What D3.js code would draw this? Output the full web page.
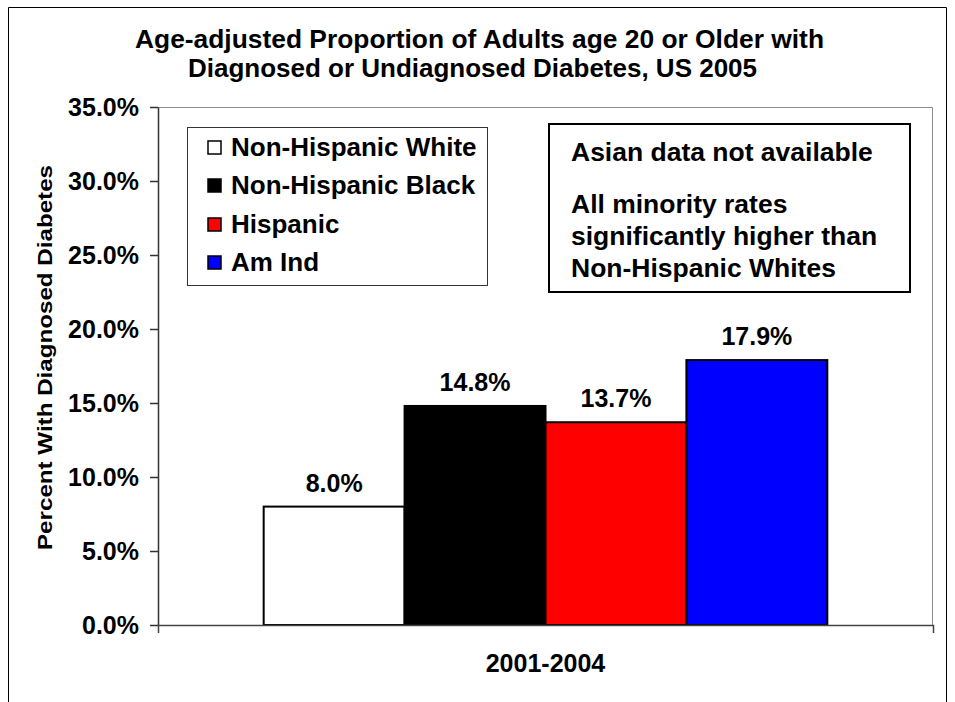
<!DOCTYPE html>
<html>
<head>
<meta charset="utf-8">
<script src="https://cdn.jsdelivr.net/npm/d3@7/dist/d3.min.js"></script>
<style>
  body { margin: 0; background: #fff; }
  svg text { font-family: "Liberation Sans", Arial, Helvetica, sans-serif; font-weight: bold; fill: #000; }
</style>
</head>
<body>
<svg id="chart" width="955" height="702"></svg>
<script>
// ---- data ----
const categories = ["2001-2004"];
const seriesNames = ["Non-Hispanic White", "Non-Hispanic Black", "Hispanic", "Am Ind"];
const seriesValues = [0.080, 0.148, 0.137, 0.179];
const seriesColors = ["#ffffff", "#000000", "#ff0000", "#0000ff"];
const yTicks = [0, 0.05, 0.10, 0.15, 0.20, 0.25, 0.30, 0.35];
const titleLines = [
  "Age-adjusted Proportion of Adults age 20 or Older with",
  "Diagnosed or Undiagnosed Diabetes, US 2005"
];
const yAxisTitle = "Percent With Diagnosed Diabetes";
const noteLines = [
  "Asian data not available",
  "All minority rates",
  "significantly higher than",
  "Non-Hispanic Whites"
];

// ---- layout ----
const W = 955, H = 702;
const plot = { left: 158, right: 933, top: 107, bottom: 625 };

const svg = d3.select("#chart");

// outer chart frame
svg.append("path")
  .attr("d", `M8.5,${H} V7.5 H946.5 V${H}`)
  .attr("fill", "none").attr("stroke", "#000").attr("stroke-width", 1);

// ---- scales ----
const y = d3.scaleLinear().domain([0, 0.35]).range([plot.bottom, plot.top]);
const x0 = d3.scaleBand().domain(categories)
  .range([plot.left, plot.right]).paddingInner(0).paddingOuter(0.1875);
const x1 = d3.scaleBand().domain(seriesNames)
  .range([0, x0.bandwidth()]).padding(0);
const color = d3.scaleOrdinal().domain(seriesNames).range(seriesColors);

// plot area frame (top and right in light gray)
svg.append("path")
  .attr("d", `M${plot.left},${plot.top + 0.5} H${plot.right - 0.5} V${plot.bottom}`)
  .attr("fill", "none").attr("stroke", "#8c8c8c").attr("stroke-width", 1);

// ---- bars ----
const rows = seriesNames.map((name, i) => ({ cat: categories[0], name, value: seriesValues[i] }));

const g = svg.append("g");
g.selectAll("rect.bar").data(rows).join("rect")
  .attr("class", "bar")
  .attr("x", d => x0(d.cat) + x1(d.name))
  .attr("y", d => y(d.value))
  .attr("width", x1.bandwidth())
  .attr("height", d => y(0) - y(d.value))
  .attr("fill", d => color(d.name))
  .attr("stroke", "#000").attr("stroke-width", 2);

// value labels
g.selectAll("text.val").data(rows).join("text")
  .attr("class", "val")
  .attr("x", d => x0(d.cat) + x1(d.name) + x1.bandwidth() / 2)
  .attr("y", d => y(d.value) - 15)
  .attr("text-anchor", "middle")
  .attr("font-size", 25)
  .text(d => d3.format(".1%")(d.value));

// ---- axes ----
const yAxis = svg.append("g")
  .attr("transform", `translate(${plot.left},0)`)
  .call(d3.axisLeft(y).tickValues(yTicks).tickFormat(d3.format(".1%"))
    .tickSize(8).tickSizeOuter(0).tickPadding(11));
yAxis.select(".domain").attr("stroke", "#333").attr("stroke-width", 1.5);
yAxis.selectAll(".tick line").attr("stroke", "#333").attr("stroke-width", 1.5);
yAxis.selectAll(".tick text")
  .attr("font-size", 25).attr("font-family", null).attr("fill", "#000");

const xAxis = svg.append("g")
  .attr("transform", `translate(0,${plot.bottom})`)
  .call(d3.axisBottom(x0).tickValues([]).tickSizeOuter(8));
xAxis.select(".domain").attr("stroke", "#444").attr("stroke-width", 1.5);

// category label
svg.selectAll("text.cat").data(categories).join("text")
  .attr("class", "cat")
  .attr("x", d => x0(d) + x0.bandwidth() / 2)
  .attr("y", 672)
  .attr("text-anchor", "middle")
  .attr("font-size", 25)
  .text(d => d);

// ---- titles ----
const titleWidths = [689, 569];
svg.selectAll("text.title").data(titleLines).join("text")
  .attr("class", "title")
  .attr("x", (d, i) => [479.5, 472.5][i])
  .attr("y", (d, i) => [48, 77][i])
  .attr("text-anchor", "middle")
  .attr("font-size", 26)
  .attr("textLength", (d, i) => titleWidths[i])
  .attr("lengthAdjust", "spacingAndGlyphs")
  .text(d => d);

svg.append("text")
  .attr("transform", `translate(52,357.5) rotate(-90)`)
  .attr("text-anchor", "middle")
  .attr("font-size", 21)
  .attr("textLength", 385)
  .attr("lengthAdjust", "spacingAndGlyphs")
  .text(yAxisTitle);

// ---- legend ----
const legend = svg.append("g");
legend.append("rect")
  .attr("x", 187.5).attr("y", 127.5).attr("width", 300).attr("height", 158)
  .attr("fill", "#fff").attr("stroke", "#333").attr("stroke-width", 1);
const legendBase = [156, 194, 233, 271];
const items = legend.selectAll("g.item").data(seriesNames).join("g").attr("class", "item");
items.append("rect")
  .attr("x", 208).attr("y", (d, i) => legendBase[i] - 15)
  .attr("width", 13).attr("height", 13)
  .attr("fill", d => color(d)).attr("stroke", "#000").attr("stroke-width", 1.5);
items.append("text")
  .attr("transform", (d, i) => `translate(231,${legendBase[i]}) scale(1.04,1)`)
  .attr("font-size", 25)
  .text(d => d);

// ---- note box ----
const note = svg.append("g");
note.append("rect")
  .attr("x", 549).attr("y", 124).attr("width", 361).attr("height", 168)
  .attr("fill", "#fff").attr("stroke", "#000").attr("stroke-width", 2);
const noteBase = [161, 213, 245, 277];
note.selectAll("text").data(noteLines).join("text")
  .attr("transform", (d, i) => `translate(571,${noteBase[i]}) scale(1.06,1)`)
  .attr("font-size", 25)
  .text(d => d);
</script>
</body>
</html>
